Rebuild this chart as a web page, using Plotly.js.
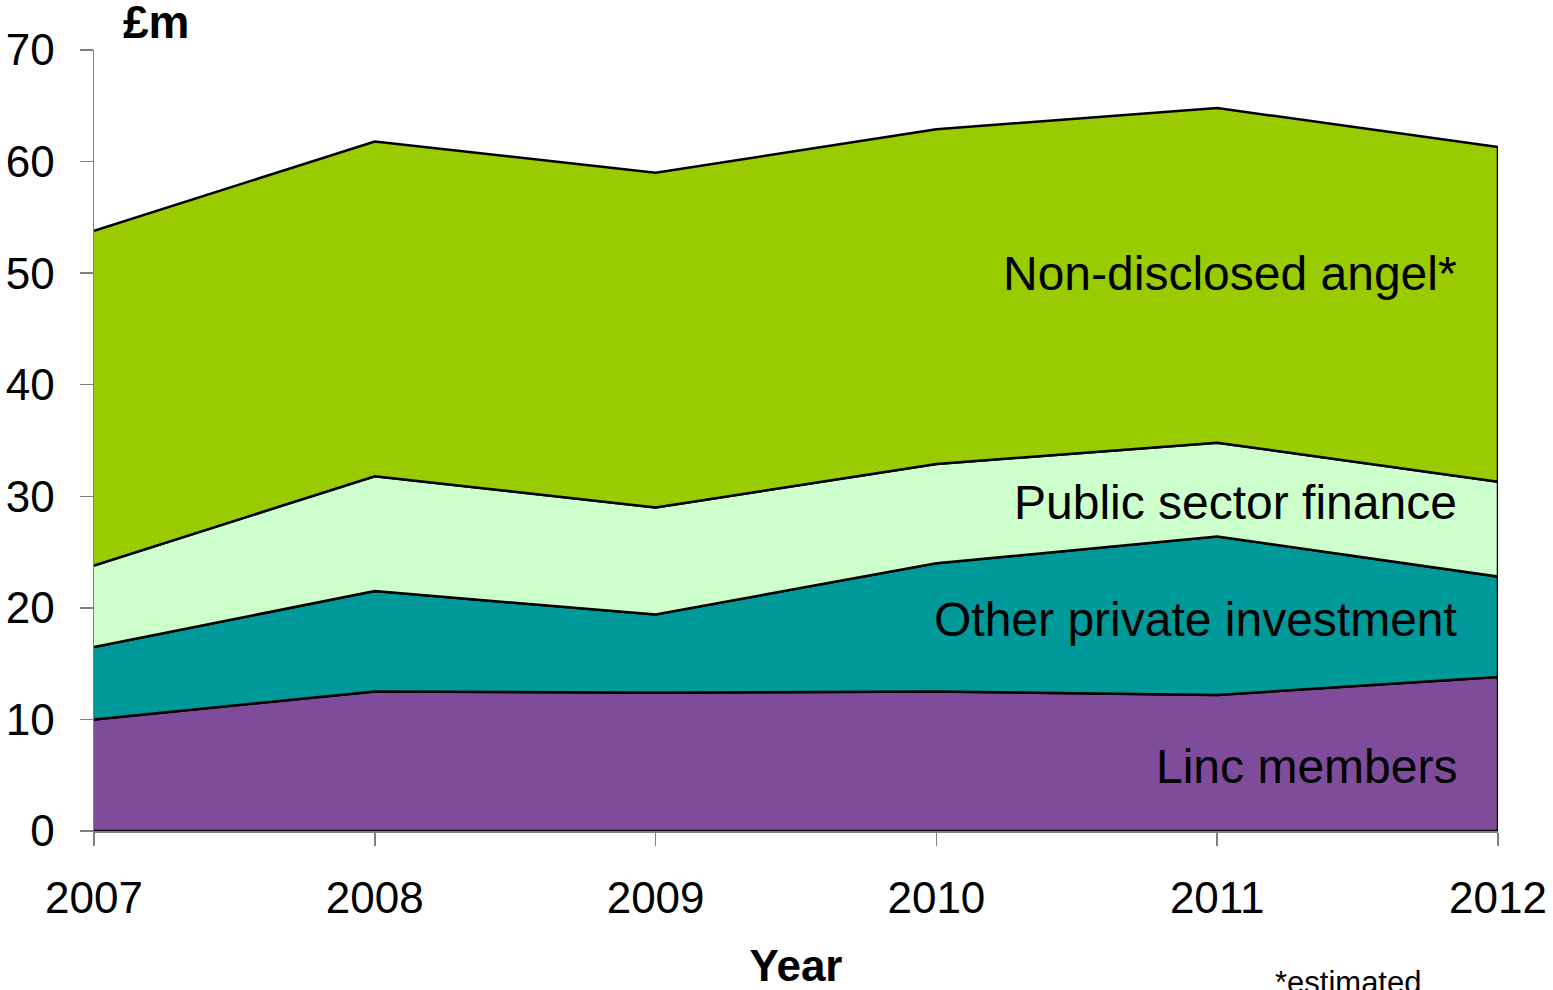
<!DOCTYPE html>
<html>
<head>
<meta charset="utf-8">
<script src="https://cdn.plot.ly/plotly-3.0.1.min.js"></script>
<style>
html,body{margin:0;padding:0;background:#fff;}
#chart{width:1553px;height:990px;}
</style>
</head>
<body>
<div id="chart"></div>
<script>
// Data (£m)
const years = [2007, 2008, 2009, 2010, 2011, 2012];
const seriesNames = ["Linc members", "Other private investment", "Public sector finance", "Non-disclosed angel*"];
const lincMembers = [10.0, 12.5, 12.4, 12.5, 12.2, 13.8];
const otherPrivate = [6.5, 9.0, 7.0, 11.5, 14.2, 9.0];
const publicSector = [7.3, 10.3, 9.6, 8.9, 8.4, 8.5];
const nonDisclosedAngel = [30.0, 30.0, 30.0, 30.0, 30.0, 30.0];
const yTickVals = [0, 10, 20, 30, 40, 50, 60, 70];

const seriesValues = [lincMembers, otherPrivate, publicSector, nonDisclosedAngel];
const fillColors = ["#7F4B9B", "#009999", "#CCFFCC", "#99CC00"];

const FONT = "Liberation Sans, Arial, sans-serif";

// Build stacked polygons
const traces = [];
let base = years.map(() => 0);
seriesValues.forEach((vals, i) => {
  const top = vals.map((v, j) => base[j] + v);
  traces.push({
    type: "scatter",
    mode: "lines",
    name: seriesNames[i],
    x: years.concat(years.slice().reverse()),
    y: top.concat(base.slice().reverse()),
    fill: "toself",
    fillcolor: fillColors[i],
    line: {color: "#000000", width: 2.5},
    hoverinfo: "skip",
    showlegend: false
  });
  base = top;
});

const labelFont = {family: FONT, size: 48, color: "#000"};

const layout = {
  width: 1553,
  height: 990,
  margin: {l: 94, r: 55, t: 50, b: 159},
  paper_bgcolor: "#fff",
  plot_bgcolor: "#fff",
  showlegend: false,
  xaxis: {
    range: [2007, 2012],
    tickvals: years,
    ticktext: years.map(String),
    ticks: "outside",
    ticklen: 13,
    tickwidth: 1.5,
    tickcolor: "#808080",
    showline: true,
    linecolor: "#808080",
    linewidth: 1.5,
    showgrid: false,
    zeroline: false,
    ticklabelstandoff: 15,
    tickfont: {family: FONT, size: 44, color: "#000"},
    title: {text: "<b>Year</b>", font: {family: FONT, size: 44, color: "#000"}, standoff: 32}
  },
  yaxis: {
    range: [0, 70],
    tickvals: yTickVals,
    ticks: "outside",
    ticklen: 13,
    tickwidth: 1.5,
    tickcolor: "#808080",
    showline: true,
    linecolor: "#808080",
    linewidth: 1.5,
    showgrid: false,
    zeroline: false,
    ticklabelstandoff: 16,
    tickfont: {family: FONT, size: 44, color: "#000"}
  },
  annotations: [
    {text: "<b>£m</b>", xref: "paper", yref: "paper", x: (156 - 94) / 1404, y: (831 - 22) / 781,
     xanchor: "center", yanchor: "middle", showarrow: false, font: {family: FONT, size: 46, color: "#000"}},
    {text: seriesNames[3], xref: "paper", yref: "y", x: (1459 - 94) / 1404, y: 50.0,
     xanchor: "right", yanchor: "middle", showarrow: false, font: labelFont},
    {text: seriesNames[2], xref: "paper", yref: "y", x: (1459 - 94) / 1404, y: 29.4,
     xanchor: "right", yanchor: "middle", showarrow: false, font: labelFont},
    {text: seriesNames[1], xref: "paper", yref: "y", x: (1459 - 94) / 1404, y: 19.0,
     xanchor: "right", yanchor: "middle", showarrow: false, font: labelFont},
    {text: seriesNames[0], xref: "paper", yref: "y", x: (1459 - 94) / 1404, y: 5.75,
     xanchor: "right", yanchor: "middle", showarrow: false, font: labelFont},
    {text: "*estimated", xref: "paper", yref: "paper", x: (1348 - 94) / 1404, y: (831 - 983) / 781,
     xanchor: "center", yanchor: "middle", showarrow: false, font: {family: FONT, size: 31, color: "#000"}}
  ]
};

Plotly.newPlot("chart", traces, layout, {displayModeBar: false, staticPlot: true});
</script>
</body>
</html>
